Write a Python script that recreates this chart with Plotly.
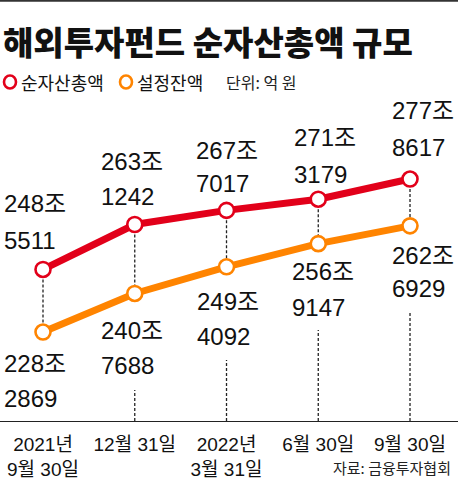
import plotly.graph_objects as go

# ---- data (values in 억 원) ----
dates = ["2021년<br>9월 30일", "12월 31일", "2022년<br>3월 31일", "6월 30일", "9월 30일"]
net_assets = [2485511, 2631242, 2677017, 2713179, 2778617]     # 순자산총액
set_balance = [2282869, 2407688, 2494092, 2569147, 2626929]    # 설정잔액

title_text = "해외투자펀드 순자산총액 규모"
series_names = ["순자산총액", "설정잔액"]
unit_text = "단위: 억 원"
source_text = "자료: 금융투자협회"

# ---- styling / layout ----
W, H = 458, 480
RED = "#e2001a"
ORANGE = "#ff8400"
NUM_FONT = "Liberation Sans, Arial, Noto Sans CJK KR"
TICK_FONT = "Liberation Sans, Arial, Noto Sans CJK KR"
KR_FONT = "Noto Sans CJK KR, Liberation Sans"
MB = 59                     # bottom margin (axis at y=421px)
PH = H - MB                 # plot height in px

xs = list(range(len(dates)))
red_y = [v / 10000 for v in net_assets]
org_y = [v / 10000 for v in set_balance]

# label offsets (px) relative to each point: left edge shift, first/second line vertical shift
red_dx = [-41, -36, -33, -26, -20]
red_dy1 = [66, 63, 60, 62, 69]
red_dy2 = [29, 28, 27, 25, 32]
org_dx = [-41, -36, -32, -28, -20]
org_dy1 = [-31, -37, -35, -28, -30]
org_dy2 = [-66, -72, -70, -64, -63]
drop_tail = [0, 31, 61, 91, 108]   # visible dashed segment above the axis (px)

def px_x(p):
    return p / W

def px_y(p):
    return (PH - p) / PH

fig = go.Figure()
fig.add_trace(go.Scatter(
    x=xs, y=red_y, mode="lines+markers", name=series_names[0],
    line=dict(color=RED, width=7),
    marker=dict(size=15, color="white", line=dict(color=RED, width=2.6)),
    hoverinfo="skip"))
fig.add_trace(go.Scatter(
    x=xs, y=org_y, mode="lines+markers", name=series_names[1],
    line=dict(color=ORANGE, width=7),
    marker=dict(size=15, color="white", line=dict(color=ORANGE, width=2.6)),
    hoverinfo="skip"))

shapes = []
annotations = []
ymin = 199.45
for i in xs:
    # dashed connector between red and orange points
    shapes.append(dict(type="line", xref="x", yref="y", x0=i, x1=i,
                       y0=red_y[i], y1=org_y[i], layer="below",
                       line=dict(color="#222", width=1.3, dash="3px,2px")))
    if drop_tail[i] > 0:
        shapes.append(dict(type="line", xref="x", yref="y", ysizemode="pixel",
                           yanchor=ymin, x0=i, x1=i, y0=0, y1=drop_tail[i],
                           layer="below",
                           line=dict(color="#222", width=1.3, dash="3px,2px")))
    for vals, ys, dx, d1, d2 in ((net_assets, red_y, red_dx, red_dy1, red_dy2),
                                 (set_balance, org_y, org_dx, org_dy1, org_dy2)):
        v = vals[i]
        for txt, dy in ((f"{v // 10000}조", d1[i]), (f"{v % 10000:04d}", d2[i])):
            annotations.append(dict(x=i, y=ys[i], xref="x", yref="y", text=txt,
                                    showarrow=False, xanchor="left", yanchor="middle",
                                    xshift=dx[i], yshift=dy,
                                    font=dict(family=NUM_FONT, size=24, color="#111")))

# title
annotations.append(dict(x=px_x(1), y=px_y(41), xref="paper", yref="paper",
                        text=title_text, showarrow=False,
                        xanchor="left", yanchor="middle",
                        font=dict(family=KR_FONT, size=33, color="#111", weight=900)))
# legend
for cx, tx, name, col in ((10, 19, series_names[0], RED), (126, 135, series_names[1], ORANGE)):
    shapes.append(dict(type="circle", xref="paper", yref="paper",
                       xsizemode="pixel", ysizemode="pixel",
                       xanchor=px_x(cx), yanchor=px_y(82),
                       x0=-6, x1=6, y0=-6.5, y1=6.5,
                       line=dict(color=col, width=2.6), fillcolor="white"))
    annotations.append(dict(x=px_x(tx), y=px_y(82), xref="paper", yref="paper",
                            text=name, showarrow=False, xanchor="left", yanchor="middle",
                            font=dict(family=KR_FONT, size=18, color="#111")))
annotations.append(dict(x=px_x(224), y=px_y(82), xref="paper", yref="paper",
                        text=unit_text, showarrow=False, xanchor="left", yanchor="middle",
                        font=dict(family=KR_FONT, size=16, color="#222")))
# source
annotations.append(dict(x=px_x(453), y=px_y(468), xref="paper", yref="paper",
                        text=source_text, showarrow=False, xanchor="right", yanchor="middle",
                        font=dict(family=KR_FONT, size=15, color="#222")))
# top border
shapes.append(dict(type="line", xref="paper", yref="paper", x0=0, x1=1,
                   y0=px_y(0.8), y1=px_y(0.8), line=dict(color="#333", width=2)))

fig.update_layout(
    width=W, height=H,
    margin=dict(l=0, r=0, t=0, b=MB),
    paper_bgcolor="white", plot_bgcolor="white",
    showlegend=False,
    shapes=shapes, annotations=annotations,
    xaxis=dict(range=[-0.4687, 4.523], tickmode="array", tickvals=xs, ticktext=dates,
               showgrid=False, zeroline=False, showline=True, linecolor="#222", linewidth=1.2,
               ticks="", ticklabelstandoff=6,
               tickfont=dict(family=TICK_FONT, size=19, color="#111"), fixedrange=True),
    yaxis=dict(range=[ymin, 335.87], visible=False, fixedrange=True),
)

fig.write_html("out.html", config={"displayModeBar": False})
